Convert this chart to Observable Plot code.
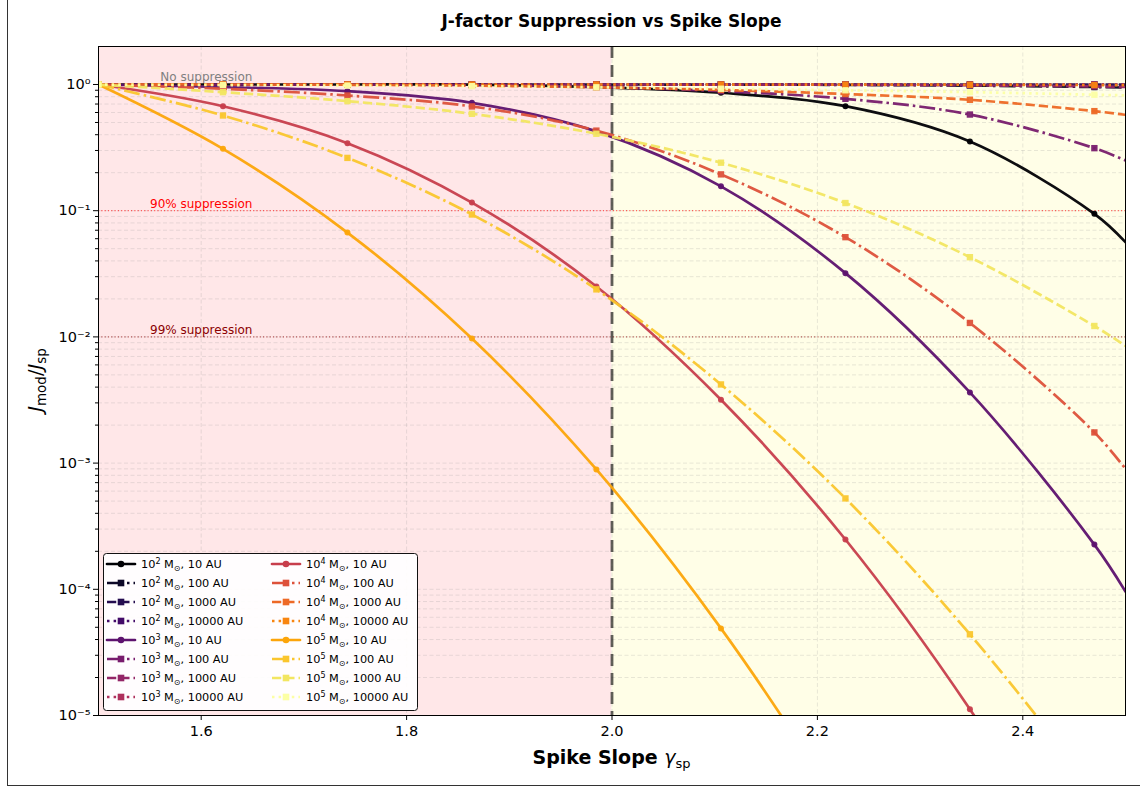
<!DOCTYPE html>
<html><head><meta charset="utf-8">
<script src="https://cdn.jsdelivr.net/npm/d3@7"></script>
<script src="https://cdn.jsdelivr.net/npm/@observablehq/plot@0.6"></script>
<style>
body{margin:0;background:#fff;}
#wrap{position:relative;width:1140px;height:788px;font-family:"DejaVu Sans",sans-serif;overflow:hidden;background:#fff;}
#title{position:absolute;left:98px;width:1027px;top:11px;height:20px;line-height:20px;text-align:center;font-weight:bold;font-size:17px;color:#000;}
#chart{position:absolute;left:0;top:30px;}
#edge{position:absolute;left:7px;top:-2px;width:1200px;height:787px;border-left:1px solid #333;border-bottom:1px solid #333;pointer-events:none;}
</style></head><body>
<div id="wrap"><div id="title">J-factor Suppression vs Spike Slope</div><div id="chart"></div><div id="edge"></div></div>
<script>
// ---- data ----
const gamma = [1.5, 1.6212, 1.7424, 1.8636, 1.9848, 2.1061, 2.2273, 2.3485, 2.4697, 2.5];
const massExponents = ["2", "3", "4", "5"];
const radiiAU = [10, 100, 1000, 10000];

const J_m2_r10    = [1, 1, 1, 0.998, 0.955, 0.86, 0.673, 0.353, 0.0944, 0.0563];
const J_m2_r100   = [1, 1, 1, 1, 1, 0.998, 0.993, 0.98, 0.955, 0.945];
const J_m2_r1000  = [1, 1, 1, 1, 1, 1, 1, 1, 0.998, 0.997];
const J_m2_r10000 = [1, 1, 1, 1, 1, 1, 1, 1, 1, 1];
const J_m3_r10    = [1, 0.955, 0.885, 0.716, 0.425, 0.156, 0.032, 0.00363, 2.26e-4, 9.6e-5];
const J_m3_r100   = [1, 1, 0.998, 0.99, 0.955, 0.885, 0.77, 0.578, 0.313, 0.25];
const J_m3_r1000  = [1, 1, 1, 1, 1, 0.998, 0.995, 0.985, 0.965, 0.955];
const J_m3_r10000 = [1, 1, 1, 1, 1, 1, 1, 1, 0.998, 0.997];
const J_m4_r10    = [1, 0.673, 0.343, 0.116, 0.0251, 0.00318, 2.48e-4, 1.12e-5, 2.9e-7, 1.1e-7];
const J_m4_r100   = [1, 0.925, 0.818, 0.67, 0.431, 0.194, 0.0617, 0.0129, 0.00175, 9e-4];
const J_m4_r1000  = [1, 1, 0.995, 0.98, 0.95, 0.905, 0.84, 0.756, 0.615, 0.575];
const J_m4_r10000 = [1, 1, 1, 1, 1, 0.999, 0.998, 0.995, 0.99, 0.988];
const J_m5_r10    = [1, 0.309, 0.0671, 0.0097, 8.9e-4, 4.9e-5, 1.6e-6, 3.2e-8, 4e-10, 1.3e-10];
const J_m5_r100   = [1, 0.568, 0.262, 0.0933, 0.0238, 0.0042, 5.25e-4, 4.4e-5, 2.5e-6, 1.1e-6];
const J_m5_r1000  = [1, 0.869, 0.738, 0.586, 0.407, 0.24, 0.115, 0.0428, 0.0122, 0.0085];
const J_m5_r10000 = [1, 0.99, 0.98, 0.97, 0.95, 0.925, 0.9, 0.87, 0.83, 0.82];

const seriesValues = [
  J_m2_r10, J_m2_r100, J_m2_r1000, J_m2_r10000,
  J_m3_r10, J_m3_r100, J_m3_r1000, J_m3_r10000,
  J_m4_r10, J_m4_r100, J_m4_r1000, J_m4_r10000,
  J_m5_r10, J_m5_r100, J_m5_r1000, J_m5_r10000
];

const regionBounds = [{x1: 1.5, x2: 2.0}, {x1: 2.0, x2: 2.5}];
const refValues = [1, 0.1, 0.01];
const refLabels = ["No suppression", "90% suppression", "99% suppression"];
const refLabelX = [1.605, 1.6, 1.6];
const xTicks = [1.6, 1.8, 2.0, 2.2, 2.4];
const yMajor = [1e-5, 1e-4, 1e-3, 1e-2, 1e-1, 1];

// ---- styles ----
const regionFills = ["#ffe7e8", "#fffee7"];
const refColors = ["#808080", "#ff0000", "#8b0000"];
const dashes = [null, "16,4,2.5,4", "9.25,4", "2.5,4.1"];
const yMinor = [];
for (let e = -5; e <= -1; e++) for (let m = 2; m <= 9; m++) yMinor.push(m * Math.pow(10, e));

const rows = seriesValues.map((vals, s) => vals.map((v, i) => ({s, gamma: gamma[i], J: v, marker: i < 9})));
const color = s => d3.interpolateInferno(s / 15);

const supMap = {"-": "⁻", "0": "⁰", "1": "¹", "2": "²", "3": "³", "4": "⁴", "5": "⁵"};
const fmtPow = d => "10" + String(Math.round(Math.log10(d))).split("").map(c => supMap[c]).join("");

const marks = [
  Plot.rect(regionBounds, {x1: "x1", x2: "x2", fill: (d, i) => regionFills[i]}),
  Plot.gridY(yMinor.concat(yMajor), {stroke: "#999", strokeOpacity: 0.3, strokeWidth: 0.8, strokeDasharray: "4,2.5"}),
  Plot.gridX(xTicks, {stroke: "#999", strokeOpacity: 0.3, strokeWidth: 0.8, strokeDasharray: "4,2.5"}),
  Plot.ruleY(refValues, {y: d => d, stroke: (d, i) => refColors[i], strokeOpacity: 0.6, strokeWidth: 1.2, strokeDasharray: "1.2,2.1"}),
  Plot.text(refValues, {x: (d, i) => refLabelX[i], y: d => d, text: (d, i) => refLabels[i], fill: (d, i) => refColors[i], dy: -7, fontSize: 12, textAnchor: "middle"}),
  Plot.ruleX([2.0], {stroke: "#000", strokeOpacity: 0.62, strokeWidth: 2.8, strokeDasharray: "12,7"})
];

rows.forEach((r, s) => {
  const ri = s % 4;
  const c = color(s);
  marks.push(Plot.line(r, {x: "gamma", y: "J", stroke: c, strokeWidth: 2.7, strokeOpacity: 0.95,
    strokeDasharray: dashes[ri] || undefined, strokeLinecap: ri === 0 ? "round" : "butt",
    curve: "catmull-rom", clip: true}));
  marks.push(Plot.dot(r.filter(d => d.marker), {x: "gamma", y: "J", fill: c, fillOpacity: 0.95,
    symbol: ri === 0 ? "circle" : "square", r: ri === 0 ? 3 : 3.6, clip: true}));
});

marks.push(
  Plot.axisY(yMajor, {tickFormat: fmtPow, tickSize: 5, tickPadding: 3, label: null}),
  Plot.axisY(yMinor, {tickFormat: () => "", tickSize: 3, label: null}),
  Plot.axisX(xTicks, {tickFormat: d => d.toFixed(1), tickSize: 5, tickPadding: 5, label: null}),
  Plot.frame({stroke: "#000", strokeWidth: 1})
);

const plot = Plot.plot({
  width: 1140, height: 758,
  marginTop: 16, marginRight: 15, marginBottom: 73, marginLeft: 98,
  x: {domain: [1.5, 2.5], label: null},
  y: {type: "log", domain: [1e-5, 2], label: null},
  style: {fontFamily: "DejaVu Sans", fontSize: "14px", background: "transparent", color: "#000"},
  marks
});
document.getElementById("chart").appendChild(plot);

const svg = d3.select(plot);
svg.selectAll("g[aria-label='y-axis tick label'], g[aria-label='x-axis tick label']").style("font-size", "14.5px");
svg.selectAll("g[aria-label='y-axis tick label'] text, g[aria-label='x-axis tick label'] text").style("font-size", "14.5px");

// axis labels
const xl = svg.append("text").attr("x", 611.5).attr("y", 734).attr("text-anchor", "middle")
  .attr("font-size", 19).attr("font-family", "DejaVu Sans").attr("fill", "#000");
xl.append("tspan").attr("font-weight", "bold").text("Spike Slope ");
xl.append("tspan").attr("font-style", "italic").text("γ");
xl.append("tspan").attr("font-size", 13).attr("dy", 4).text("sp");

const yl = svg.append("text").attr("transform", "translate(42,350) rotate(-90)").attr("text-anchor", "middle")
  .attr("font-size", 19.5).attr("font-family", "DejaVu Sans").attr("fill", "#000");
yl.append("tspan").attr("font-style", "italic").text("J");
yl.append("tspan").attr("font-size", 13.5).attr("dy", 4).text("mod");
yl.append("tspan").attr("dy", -4).text("/");
yl.append("tspan").attr("font-style", "italic").text("J");
yl.append("tspan").attr("font-size", 13.5).attr("dy", 4).text("sp");

// legend
const lg = svg.append("g").attr("font-family", "DejaVu Sans").attr("font-size", 11.3).attr("text-anchor", "start");
lg.append("rect").attr("x", 103.5).attr("y", 523.5).attr("width", 314).attr("height", 157).attr("rx", 3)
  .attr("fill", "#fff").attr("fill-opacity", 0.92).attr("stroke", "#111").attr("stroke-width", 1);
for (let s = 0; s < 16; s++) {
  const col = Math.floor(s / 8), row = s % 8, ri = s % 4, mi = Math.floor(s / 4);
  const x0 = col ? 272 : 107, y = 534 + 19 * row;
  const c = color(s);
  lg.append("line").attr("x1", x0).attr("x2", x0 + 28).attr("y1", y).attr("y2", y)
    .attr("stroke", c).attr("stroke-width", 2.7).attr("stroke-dasharray", dashes[ri])
    .attr("stroke-linecap", ri === 0 ? "round" : "butt");
  if (ri === 0) lg.append("circle").attr("cx", x0 + 14).attr("cy", y).attr("r", 3.3).attr("fill", c);
  else lg.append("rect").attr("x", x0 + 14 - 3.3).attr("y", y - 3.3).attr("width", 6.6).attr("height", 6.6).attr("fill", c);
  const t = lg.append("text").attr("x", x0 + 34).attr("y", y + 4).attr("fill", "#000").attr("text-anchor", "start");
  t.append("tspan").text("10");
  t.append("tspan").attr("font-size", 8).attr("dy", -4.5).text(massExponents[mi]);
  t.append("tspan").attr("dy", 4.5).text(" M");
  t.append("tspan").attr("font-size", 8).attr("dy", 2.5).text("⊙");
  t.append("tspan").attr("dy", -2.5).text(", " + radiiAU[ri] + " AU");
}
</script>
</body></html>
